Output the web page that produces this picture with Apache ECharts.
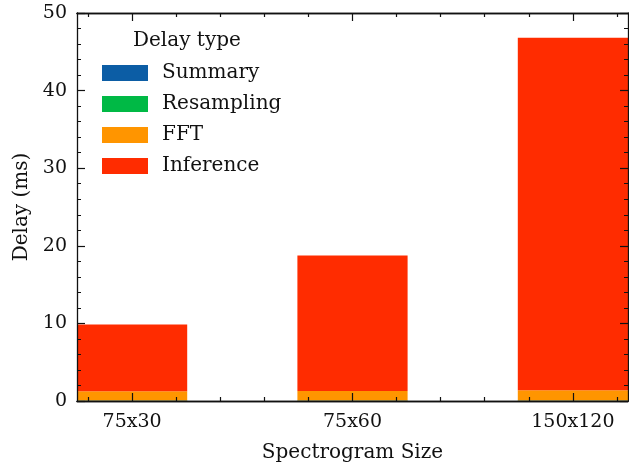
<!DOCTYPE html>
<html>
<head>
<meta charset="utf-8">
<script src="https://cdn.jsdelivr.net/npm/echarts@6/dist/echarts.min.js"></script>
<style>
    html, body { margin: 0; padding: 0; background: #fff; }
    #chart { width: 629px; height: 466px; }
</style>
</head>
<body>
<div id="chart"></div>
<script>
// 数据
var categories = ['75x30', '75x60', '150x120'];
var seriesNames = ['Summary', 'Resampling', 'FFT', 'Inference'];
var summaryMs = [0.02, 0.02, 0.03];
var resamplingMs = [0.03, 0.03, 0.04];
var fftMs = [1.2, 1.25, 1.33];
var inferenceMs = [8.6, 17.45, 45.4];
var colors = ['#0C5DA5', '#00B945', '#FF9500', '#FF2C00'];

var majorX = [0, 1, 2];
var minorX = [-0.2, 0.2, 0.4, 0.6, 0.8, 1.2, 1.4, 1.6, 1.8, 2.2];

var font = 'DejaVu Serif';
var ink = '#111';

// 坐标框: grid 0 只画刻度, grid 1 画柱子 (每个类别宽 band px)
var plotLeft = 77, plotTop = 13, plotW = 551, plotH = 388;
var band = plotW / 2.5;

function xAxisDef(pos, ticks, len, withLabel) {
    return {
        type: 'value',
        gridIndex: 0,
        position: pos,
        z: 10,
        min: -0.25,
        max: 2.25,
        axisLine: { show: true, onZero: false, lineStyle: { color: ink, width: 1.3 } },
        axisTick: { show: true, inside: true, length: len, customValues: ticks, lineStyle: { color: ink, width: 1.2 } },
        axisLabel: withLabel ? {
            show: true, customValues: majorX, margin: 12,
            fontFamily: font, fontSize: 19, color: ink,
            formatter: function (v) { return categories[Math.round(v)]; }
        } : { show: false },
        splitLine: { show: false }
    };
}

function yAxisDef(pos, withLabel) {
    return {
        type: 'value',
        gridIndex: 0,
        position: pos,
        z: 10,
        min: 0,
        max: 50,
        interval: 10,
        name: withLabel ? 'Delay (ms)' : '',
        nameLocation: 'middle',
        nameGap: 44,
        nameTextStyle: { fontFamily: font, fontSize: 20, color: ink },
        axisLine: { show: true, onZero: false, lineStyle: { color: ink, width: 1.3 } },
        axisTick: { show: true, inside: true, length: 8, lineStyle: { color: ink, width: 1.2 } },
        minorTick: { show: true, splitNumber: 5, length: 4, lineStyle: { color: ink, width: 1 } },
        axisLabel: { show: withLabel, margin: 10, fontFamily: font, fontSize: 19, color: ink },
        splitLine: { show: false }
    };
}

var xBottom = xAxisDef('bottom', majorX, 8, true);
xBottom.name = 'Spectrogram Size';
xBottom.nameLocation = 'middle';
xBottom.nameGap = 42;
xBottom.nameTextStyle = { fontFamily: font, fontSize: 20, color: ink };

var valueSets = [summaryMs, resamplingMs, fftMs, inferenceMs];

var option = {
    backgroundColor: '#fff',
    animation: false,
    color: colors,
    grid: [
        { left: plotLeft, top: plotTop, width: plotW, height: plotH, outerBoundsMode: 'none' },
        { left: plotLeft + 0.25 * band - band / 2, top: plotTop, width: band * 3, height: plotH, outerBoundsMode: 'none' }
    ],
    graphic: [{
        type: 'text',
        left: 133,
        top: 31,
        style: { text: 'Delay type', fontFamily: font, fontSize: 20, fill: ink }
    }],
    legend: {
        orient: 'vertical',
        left: 97,
        top: 58,
        itemWidth: 46,
        itemHeight: 16,
        itemGap: 11,
        icon: 'rect',
        data: seriesNames,
        textStyle: { fontFamily: font, fontSize: 20, color: ink, padding: [0, 0, 0, 9] }
    },
    xAxis: [
        xBottom,
        xAxisDef('bottom', minorX, 4, false),
        xAxisDef('top', majorX, 8, false),
        xAxisDef('top', minorX, 4, false),
        { type: 'category', gridIndex: 1, data: categories, show: false }
    ],
    yAxis: [
        yAxisDef('left', true),
        yAxisDef('right', false),
        { type: 'value', gridIndex: 1, min: 0, max: 50, show: false }
    ],
    series: seriesNames.map(function (name, k) {
        return {
            name: name,
            type: 'bar',
            stack: 'delay',
            barWidth: '50%',
            xAxisIndex: 4,
            yAxisIndex: 2,
            data: valueSets[k]
        };
    })
};

var myChart = echarts.init(document.getElementById('chart'));
myChart.setOption(option);
</script>
</body>
</html>
